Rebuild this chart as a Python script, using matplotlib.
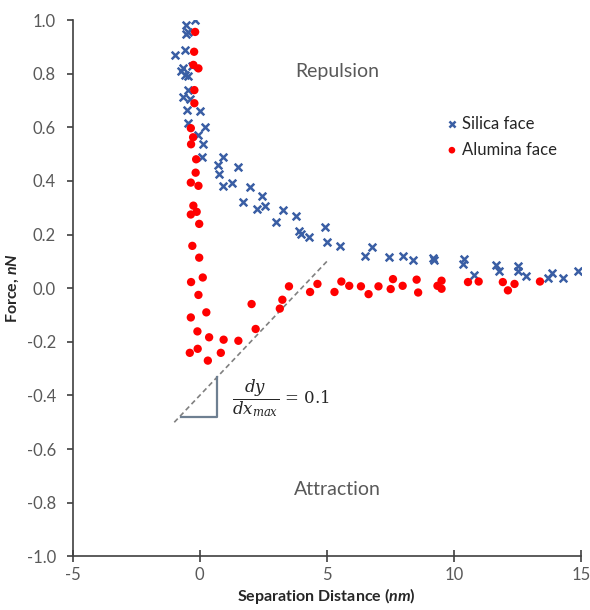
import matplotlib
matplotlib.use("Agg")
import matplotlib.pyplot as plt

plt.rcParams['font.family'] = ['Lato', 'DejaVu Sans']
plt.rcParams['axes.unicode_minus'] = False
plt.rcParams['mathtext.fontset'] = 'custom'
plt.rcParams['mathtext.rm'] = 'DejaVu Serif'
plt.rcParams['mathtext.it'] = 'DejaVu Serif:italic'
plt.rcParams['mathtext.bf'] = 'Lato:bold'
plt.rcParams['mathtext.bfit'] = 'Lato:bold:italic'

# Silica face (blue crosses)
silica_x = [-0.17, -0.54, -0.55, -0.45, -0.57, -0.97, -0.67, -0.72, -0.59, -0.46, -0.31,
            -0.45, -0.65, -0.38, -0.50, 0.0, -0.45, 0.21, -0.06, 0.14, 0.09, 0.90,
            0.72, 1.49, 0.77, 0.90, 1.28, 1.98, 2.43, 1.70, 2.24, 2.57, 3.29, 3.77,
            2.99, 3.90, 3.99, 4.29, 4.94, 5.01, 5.50, 6.51, 6.77, 7.45, 7.98, 8.40,
            9.18, 9.22, 10.40, 10.36, 10.78, 11.64, 11.77, 12.51, 12.51, 12.83,
            13.71, 13.84, 14.30, 14.86]
silica_y = [1.00, 0.98, 0.95, 0.955, 0.89, 0.87, 0.82, 0.81, 0.795, 0.79, 0.83,
            0.74, 0.714, 0.707, 0.665, 0.66, 0.615, 0.60, 0.572, 0.538, 0.491, 0.489,
            0.461, 0.451, 0.426, 0.382, 0.392, 0.377, 0.344, 0.321, 0.297, 0.307,
            0.290, 0.271, 0.247, 0.215, 0.203, 0.191, 0.228, 0.172, 0.158, 0.121,
            0.152, 0.115, 0.122, 0.106, 0.112, 0.106, 0.110, 0.091, 0.048, 0.088,
            0.066, 0.084, 0.066, 0.044, 0.040, 0.057, 0.038, 0.066]

# Alumina face (red dots)
alumina_x = [-0.18, -0.22, -0.25, -0.05, -0.21, -0.21, -0.35, -0.26, -0.34, -0.14,
             -0.16, -0.35, -0.05, -0.25, -0.12, -0.35, -0.02, -0.29, -0.02, 0.12,
             -0.34, -0.05, 0.26, -0.35, 2.04, -0.09, 0.37, 0.94, 1.52, 2.20, 3.15,
             3.25, 3.51, 4.34, 4.63, -0.39, -0.08, 0.83, 0.32, 5.30, 5.57, 5.88,
             6.34, 6.64, 7.03, 7.51, 7.60, 7.98, 8.53, 8.59, 9.35, 9.51, 9.51,
             10.55, 10.97, 11.92, 12.12, 12.38, 13.38]
alumina_y = [0.956, 0.882, 0.833, 0.820, 0.739, 0.690, 0.597, 0.563, 0.537, 0.481,
             0.431, 0.394, 0.382, 0.308, 0.285, 0.275, 0.240, 0.158, 0.114, 0.040,
             0.023, -0.025, -0.090, -0.109, -0.059, -0.161, -0.183, -0.192, -0.196,
             -0.152, -0.076, -0.043, 0.007, -0.014, 0.016, -0.241, -0.226, -0.241,
             -0.270, -0.014, 0.025, 0.009, 0.007, -0.022, 0.007, -0.003, 0.034,
             0.009, 0.032, -0.016, 0.009, 0.028, -0.002, 0.023, 0.025, 0.023,
             -0.008, 0.016, 0.025]

# max slope guide line and triangle
slope_x = [-1.0, 5.0]
slope_y = [-0.5, 0.1]
tri_x = [-0.72, 0.68, 0.68]
tri_y = [-0.48, -0.48, -0.33]

fig = plt.figure(figsize=(5.9, 6.1), dpi=100)
ax = fig.add_axes([0.123, 0.088, 0.862, 0.879])

ax.plot(slope_x, slope_y, linestyle=(0, (3, 2)), color='#808080', linewidth=1.2, zorder=1)
ax.plot(tri_x, tri_y, color='#6e7f91', linewidth=1.6, zorder=1)

ax.scatter(silica_x, silica_y, marker='x', s=30, color='#3a5ea4', linewidths=1.8,
           label='Silica face', zorder=3)
ax.scatter(alumina_x, alumina_y, marker='o', s=36, color='#ff0000', edgecolors='none',
           label='Alumina face', zorder=3)

ax.set_xlim(-5, 15)
ax.set_ylim(-1.0, 1.0)
ax.set_xticks([-5, 0, 5, 10, 15])
ax.set_yticks([-1.0, -0.8, -0.6, -0.4, -0.2, 0.0, 0.2, 0.4, 0.6, 0.8, 1.0])
ax.set_yticklabels([f"{v:.1f}" for v in ax.get_yticks()])

for side in ['top', 'right']:
    ax.spines[side].set_visible(False)
for side in ['left', 'bottom']:
    ax.spines[side].set_color('#404040')
    ax.spines[side].set_linewidth(1.2)
ax.tick_params(axis='x', direction='inout', length=9, width=1.2, color='#404040',
               labelsize=12, labelcolor='#595959', pad=3)
ax.tick_params(axis='y', direction='out', length=4, width=1.2, color='#404040',
               labelsize=12, labelcolor='#595959', pad=8)

ax.set_xlabel(r'Separation Distance ($\mathbfit{nm}$)', fontsize=11.5, fontweight='bold',
              color='#262626', labelpad=2)
ax.set_ylabel(r'Force, $\mathbfit{nN}$', fontsize=11.5, fontweight='bold',
              color='#262626', labelpad=4)

ax.text(5.4, 0.81, 'Repulsion', fontsize=14, color='#595959', ha='center', va='center')
ax.text(5.4, -0.75, 'Attraction', fontsize=14, color='#595959', ha='center', va='center')
ax.text(1.25, -0.41, r'$\dfrac{dy}{dx_{max}}$ = 0.1', fontsize=12, color='#262626',
        ha='left', va='center', family='DejaVu Serif')

ax.legend(loc='upper left', bbox_to_anchor=(0.70, 0.85), frameon=False, fontsize=12,
          handletextpad=0.1, handlelength=1.0, labelspacing=0.6, markerscale=0.8,
          labelcolor='#262626')

fig.savefig('out.png', dpi=100)
